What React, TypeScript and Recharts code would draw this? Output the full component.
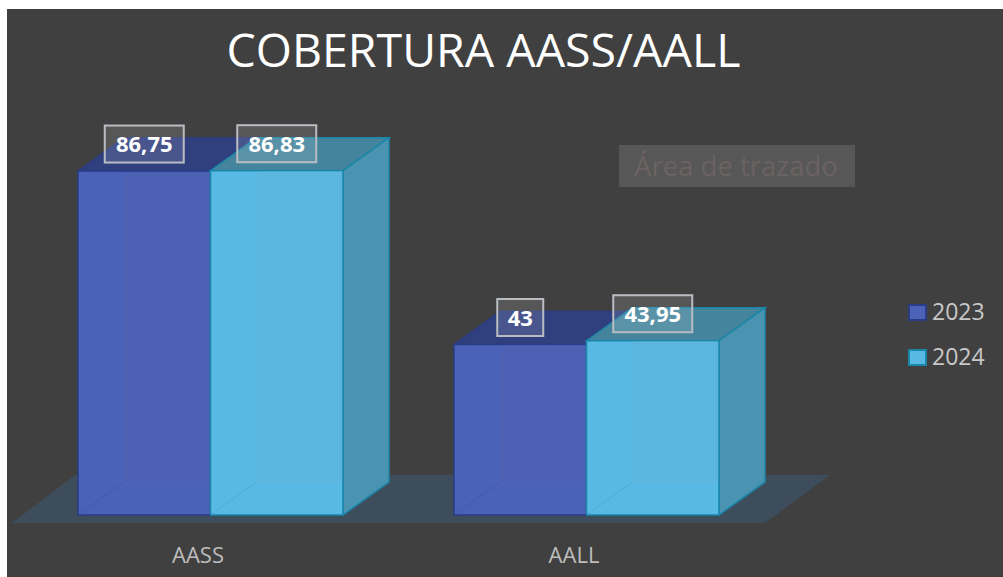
import { Bar, BarChart, LabelList, Legend, XAxis, YAxis, usePlotArea } from "recharts";

const CATEGORIES = ["AASS", "AALL"];
const VALUES_2023 = [86.75, 43];
const VALUES_2024 = [86.83, 43.95];

const chartData = CATEGORIES.map((name, i) => ({
  name,
  "2023": VALUES_2023[i],
  "2024": VALUES_2024[i],
}));

const FONT = "'Open Sans', sans-serif";
const DEPTH_X = 46;
const DEPTH_Y = 33;

const BLUE = { front: "#4b62b9", back: "#4c60b4", top: "#303f7e", side: "#3a4c92", stroke: "#2b3c86" };
const CYAN = { front: "#58b9e5", back: "#5cb6dd", top: "#44859d", side: "#4a93b1", stroke: "#1a86a8" };

function Box3D(props: any) {
  const { x, y, width: w, height: h, colors } = props;
  const dx = DEPTH_X;
  const dy = DEPTH_Y;
  return (
    <g>
      <polygon
        points={`${x},${y} ${x + dx},${y - dy} ${x + w + dx},${y - dy} ${x + w},${y}`}
        fill={colors.top}
        stroke={colors.stroke}
        strokeWidth={1.5}
      />
      <polygon
        points={`${x + w},${y} ${x + w + dx},${y - dy} ${x + w + dx},${y + h - dy} ${x + w},${y + h}`}
        fill={colors.side}
        stroke={colors.stroke}
        strokeWidth={1.5}
      />
      <rect x={x} y={y} width={w} height={h} fill={colors.front} stroke={colors.stroke} strokeWidth={1.5} />
      <rect x={x + dx} y={y + 1} width={w - dx - 1} height={h - dy - 1} fill={colors.back} />
      <line x1={x} y1={y + h} x2={x + dx} y2={y + h - dy} stroke={colors.stroke} strokeOpacity={0.2} />
    </g>
  );
}

function ValueBox(props: any) {
  const { x, y, width, value } = props;
  const text = String(value).replace(".", ",");
  const boxW = text.length > 2 ? 79 : 46;
  const cx = x + width / 2;
  const cy = y - 27;
  return (
    <g>
      <rect
        x={cx - boxW / 2}
        y={cy - 18.5}
        width={boxW}
        height={37}
        fill="#ffffff"
        fillOpacity={0.12}
        stroke="#b9bdc2"
        strokeWidth={2}
      />
      <text x={cx} y={cy + 8} textAnchor="middle" fill="#ffffff" fontFamily={FONT} fontWeight={700} fontSize={22}>
        {text}
      </text>
    </g>
  );
}

function Floor() {
  const plot = usePlotArea();
  if (!plot) return null;
  const left = plot.x;
  const right = plot.x + plot.width;
  const base = plot.y + plot.height;
  return (
    <polygon
      points={`${left - 10},${base + 8} ${left + 53},${base - 40} ${right + 56},${base - 40} ${right - 9},${base + 8}`}
      fill="#3d4d5c"
    />
  );
}

function LegendBlock(props: any) {
  const items = props.payload || [];
  return (
    <div>
      {items.map((item: any) => (
        <div key={item.value} style={{ display: "flex", alignItems: "center", height: 45 }}>
          <span
            style={{
              width: 15,
              height: 13,
              background: item.color,
              border: `2px solid ${item.value === "2023" ? BLUE.stroke : CYAN.stroke}`,
              marginRight: 5,
              marginTop: 3,
            }}
          />
          <span style={{ color: "#c8c8c8", fontFamily: FONT, fontSize: 23 }}>{item.value}</span>
        </div>
      ))}
    </div>
  );
}

export default function App() {
  return (
    <div style={{ position: "absolute", left: 7, top: 9, width: 996, height: 568, background: "#404040" }}>
      <BarChart
        width={996}
        height={568}
        data={chartData}
        barSize={132.5}
        barGap={0}
        margin={{ top: 109.5, right: 229, bottom: 32, left: 15 }}
      >
        <Floor />
        <XAxis
          dataKey="name"
          height={30}
          axisLine={false}
          tickLine={false}
          tickMargin={26}
          tick={{ fill: "#bdbdbd", fontSize: 22, fontFamily: FONT, dx: -12 }}
        />
        <YAxis hide domain={[0, 100]} />
        <Legend
          layout="vertical"
          align="center"
          verticalAlign="middle"
          wrapperStyle={{ left: 901, top: 279, width: 95 }}
          content={LegendBlock}
        />
        <Bar dataKey="2023" fill={BLUE.front} isAnimationActive={false} shape={(p: any) => <Box3D {...p} colors={BLUE} />}>
          <LabelList dataKey="2023" content={ValueBox} />
        </Bar>
        <Bar dataKey="2024" fill={CYAN.front} isAnimationActive={false} shape={(p: any) => <Box3D {...p} colors={CYAN} />}>
          <LabelList dataKey="2024" content={ValueBox} />
        </Bar>
        <text x={476.5} y={58} textAnchor="middle" fill="#ffffff" fontFamily={FONT} fontSize={46.5}>
          COBERTURA AASS/AALL
        </text>
        <rect x={612} y={136} width={236} height={42} fill="#575757" />
        <text x={729} y={167} textAnchor="middle" fill="#6b6262" fontFamily={FONT} fontSize={27.5}>
          Área de trazado
        </text>
      </BarChart>
    </div>
  );
}
